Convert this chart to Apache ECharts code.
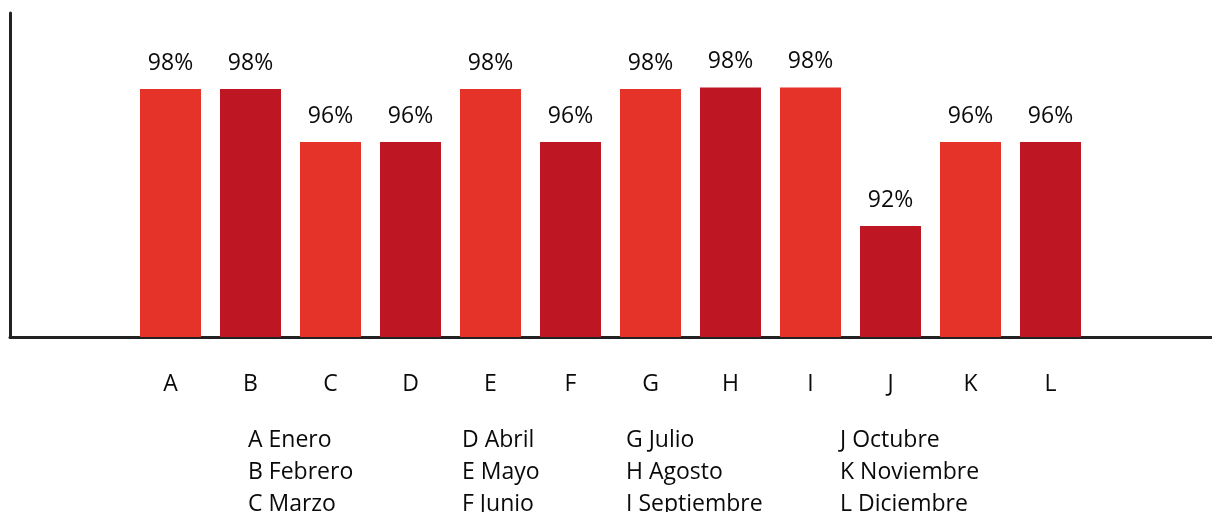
<!DOCTYPE html>
<html>
<head>
<meta charset="utf-8">
<script src="https://cdn.jsdelivr.net/npm/echarts@6/dist/echarts.min.js"></script>
<style>
html,body{margin:0;padding:0;background:#fff;}
#chart{width:1212px;height:512px;}
</style>
</head>
<body>
<div id="chart"></div>
<script>
// Data
const categories = ['A','B','C','D','E','F','G','H','I','J','K','L'];
const values = [98.4, 98.4, 95.77, 95.77, 98.4, 95.77, 98.4, 98.48, 98.48, 91.6, 95.77, 95.77];
const legendColumns = [
  ['A Enero', 'B Febrero', 'C Marzo'],
  ['D Abril', 'E Mayo', 'F Junio'],
  ['G Julio', 'H Agosto', 'I Septiembre'],
  ['J Octubre', 'K Noviembre', 'L Diciembre']
];

const FONT = '"Open Sans", "Noto Sans", sans-serif';
const light = '#e5332a', dark = '#be1622';
const colX = [248, 462, 626, 840];

const chart = echarts.init(document.getElementById('chart'), null, {renderer: 'canvas'});
chart.setOption({
  backgroundColor: '#ffffff',
  animation: false,
  grid: [
    {left: 130.5, right: 121.5, top: 13, bottom: 175},
    {left: 10, right: 0, top: 13, bottom: 175}
  ],
  xAxis: [
    {
      type: 'category', data: categories, gridIndex: 0,
      axisLine: {show: false}, axisTick: {show: false},
      axisLabel: {color: '#0a0a0a', fontFamily: FONT, fontSize: 23, margin: 36}
    },
    {
      type: 'value', gridIndex: 1, min: 0, max: 1,
      axisLine: {show: true, onZero: false, lineStyle: {color: '#222', width: 3}},
      axisTick: {show: false}, axisLabel: {show: false}, splitLine: {show: false}
    }
  ],
  yAxis: [
    {
      type: 'value', gridIndex: 0, min: 86.093, max: 102.171,
      show: false, splitLine: {show: false}
    },
    {
      type: 'value', gridIndex: 1, min: 0, max: 1,
      axisLine: {show: true, onZero: false, lineStyle: {color: '#222', width: 3}},
      axisTick: {show: false}, axisLabel: {show: false}, splitLine: {show: false}
    }
  ],
  series: [{
    type: 'bar',
    xAxisIndex: 0, yAxisIndex: 0,
    barWidth: 61,
    data: values.map((v, i) => ({value: v, itemStyle: {color: i % 2 === 0 ? light : dark}})),
    label: {
      show: true, position: 'top', distance: 14,
      color: '#0a0a0a', fontFamily: FONT, fontSize: 23,
      formatter: p => Math.round(p.value) + '%'
    }
  }],
  graphic: legendColumns.map((col, i) => ({
    type: 'text',
    left: colX[i],
    top: 424,
    style: {
      text: col.join('\n'),
      font: '23px ' + FONT,
      fill: '#0a0a0a',
      lineHeight: 32
    }
  }))
});
</script>
</body>
</html>
